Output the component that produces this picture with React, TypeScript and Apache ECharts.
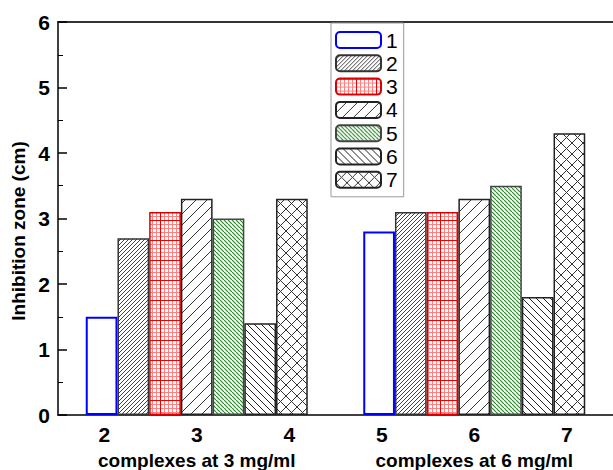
import React, { useEffect, useRef } from "react";
import * as echarts from "echarts";

const categories = ["complexes at 3 mg/ml", "complexes at 6 mg/ml"];
const seriesNames = ["1", "2", "3", "4", "5", "6", "7"];
const s1 = [1.5, 2.8];
const s2 = [2.7, 3.1];
const s3 = [3.1, 3.1];
const s4 = [3.3, 3.3];
const s5 = [3.0, 3.5];
const s6 = [1.4, 1.8];
const s7 = [3.3, 4.3];
const seriesValues = [s1, s2, s3, s4, s5, s6, s7];
const xTickValues = [2, 3, 4, 5, 6, 7];
const yTitle = "Inhibition zone (cm)";

const FONT = "'Liberation Sans', Arial, sans-serif";

function diagTile(size: number, color: string, dir: "up" | "down" | "both", lw = 1) {
  const c = document.createElement("canvas");
  c.width = size;
  c.height = size;
  const ctx = c.getContext("2d")!;
  ctx.fillStyle = "#fff";
  ctx.fillRect(0, 0, size, size);
  ctx.strokeStyle = color;
  ctx.lineWidth = lw;
  ctx.beginPath();
  for (let k = -1; k <= 1; k++) {
    if (dir === "up" || dir === "both") {
      ctx.moveTo(k * size, size);
      ctx.lineTo(k * size + size, 0);
    }
    if (dir === "down" || dir === "both") {
      ctx.moveTo(k * size, 0);
      ctx.lineTo(k * size + size, size);
    }
  }
  ctx.stroke();
  return { image: c, repeat: "repeat", imageWidth: size, imageHeight: size } as any;
}

function gridTile() {
  const size = 20;
  const c = document.createElement("canvas");
  c.width = size;
  c.height = size;
  const ctx = c.getContext("2d")!;
  ctx.fillStyle = "#fff";
  ctx.fillRect(0, 0, size, size);
  ctx.strokeStyle = "#ff8080";
  ctx.lineWidth = 1;
  ctx.beginPath();
  for (let i = 4; i < size; i += 4) {
    ctx.moveTo(i + 0.5, 0);
    ctx.lineTo(i + 0.5, size);
    ctx.moveTo(0, i + 0.5);
    ctx.lineTo(size, i + 0.5);
  }
  ctx.stroke();
  ctx.strokeStyle = "#ee0000";
  ctx.beginPath();
  ctx.moveTo(0.5, 0);
  ctx.lineTo(0.5, size);
  ctx.moveTo(0, 0.5);
  ctx.lineTo(size, 0.5);
  ctx.stroke();
  return { image: c, repeat: "repeat", imageWidth: size, imageHeight: size } as any;
}

export default function App() {
  const ref = useRef<HTMLDivElement>(null);
  useEffect(() => {
    if (!ref.current) return;
    const chart = echarts.init(ref.current, null, { renderer: "svg" });
    const styles = [
      { color: "#ffffff", borderColor: "#0000ff", borderWidth: 2 },
      { color: diagTile(4, "#444", "up"), borderColor: "#333", borderWidth: 1.5 },
      { color: gridTile(), borderColor: "#dd0000", borderWidth: 1.5 },
      { color: diagTile(11, "#333", "up"), borderColor: "#222", borderWidth: 1.5 },
      { color: diagTile(4, "#2a8a2a", "down", 1.2), borderColor: "#444", borderWidth: 1.5 },
      { color: diagTile(7, "#222", "down"), borderColor: "#222", borderWidth: 1.5 },
      { color: diagTile(11, "#333", "both"), borderColor: "#222", borderWidth: 1.5 },
    ];
    const option: any = {
      animation: false,
      backgroundColor: "#fff",
      textStyle: { fontFamily: FONT },
      grid: { left: 58, top: 22, width: 556, height: 393, containLabel: false },
      legend: {
        data: seriesNames,
        orient: "vertical",
        left: 331,
        top: 23,
        padding: [6.5, 6, 6.5, 4],
        itemWidth: 45,
        itemHeight: 16,
        itemGap: 2.3,
        borderColor: "#999",
        borderWidth: 1,
        backgroundColor: "#fff",
        textStyle: { fontSize: 21, color: "#000", fontFamily: FONT },
      },
      xAxis: [
        {
          type: "category",
          data: categories,
          position: "bottom",
          axisLine: { show: false },
          axisTick: { show: false },
          splitLine: { show: false },
          axisLabel: { margin: 36, fontSize: 19, fontWeight: "bold", color: "#000", fontFamily: FONT },
        },
        {
          type: "value",
          min: 1.5,
          max: 7.5,
          position: "bottom",
          axisLine: { show: true, lineStyle: { color: "#000", width: 1.5 } },
          axisTick: { show: false },
          splitLine: { show: false },
          axisLabel: {
            customValues: xTickValues,
            margin: 9,
            fontSize: 21,
            fontWeight: "bold",
            color: "#000",
            fontFamily: FONT,
          },
        },
        {
          type: "value",
          min: 1.5,
          max: 7.5,
          position: "top",
          axisLine: { show: true, lineStyle: { color: "#333", width: 2 } },
          axisTick: { show: false },
          axisLabel: { show: false },
          splitLine: { show: false },
        },
      ],
      yAxis: {
        type: "value",
        min: 0,
        max: 6,
        interval: 1,
        axisLine: { show: true, lineStyle: { color: "#000", width: 1.5 } },
        axisTick: { show: true, inside: true, length: 9, lineStyle: { color: "#000", width: 1.5 } },
        minorTick: { show: true, splitNumber: 2, length: 5, lineStyle: { color: "#000", width: 1 } },
        splitLine: { show: false },
        minorSplitLine: { show: false },
        axisLabel: { margin: 8, fontSize: 21, fontWeight: "bold", color: "#000", fontFamily: FONT },
      },
      graphic: [
        {
          type: "text",
          x: 18,
          y: 231,
          rotation: Math.PI / 2,
          style: {
            text: yTitle,
            fontSize: 19,
            fontWeight: "bold",
            fontFamily: FONT,
            fill: "#000",
            align: "center",
            verticalAlign: "middle",
          },
        },
      ],
      series: seriesNames.map((name, i) => ({
        name,
        type: "bar",
        xAxisIndex: 0,
        barGap: "0%",
        barCategoryGap: "20%",
        data: seriesValues[i],
        itemStyle: styles[i],
        emphasis: { disabled: true },
      })),
    };
    chart.setOption(option);
    return () => chart.dispose();
  }, []);
  return (
    <div
      ref={ref}
      style={{ position: "fixed", left: 0, top: 0, width: 613, height: 470, background: "#fff" }}
    />
  );
}
